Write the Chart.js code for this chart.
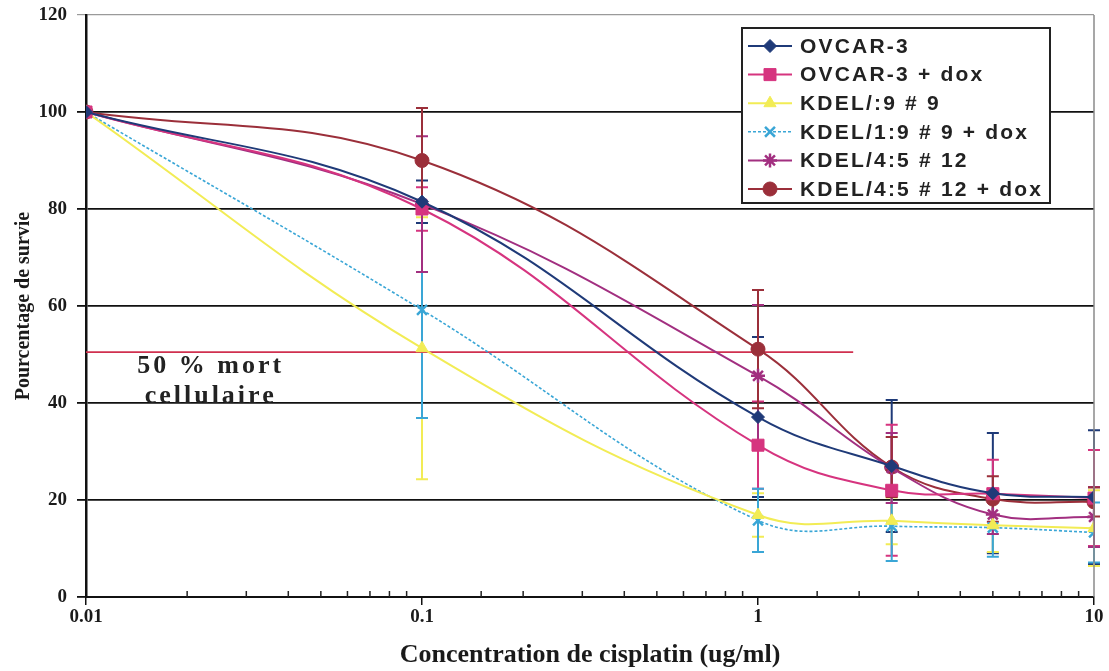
<!DOCTYPE html>
<html>
<head>
<meta charset="utf-8">
<title>Survie cellulaire - cisplatin</title>
<script src="https://cdn.jsdelivr.net/npm/chart.js@4.4.1/dist/chart.umd.min.js"></script>
<style>
  html, body { margin: 0; padding: 0; background: #fff; }
  #wrap { width: 1109px; height: 671px; }
</style>
</head>
<body>
<div id="wrap"><canvas id="survie" width="1109" height="671"></canvas></div>
<script>
// Données
const concentrations = [0.01, 0.1, 1, 2.5, 5, 10];
const tickLabels = ['0.01', '0.1', '1', '10'];

const ovcar3      = [100, 81.5, 37.1, 27.0, 21.4, 20.6];
const ovcar3Dox   = [100, 80.0, 31.3, 22.0, 21.3, 20.4];
const kdel19      = [100, 51.3, 16.9, 15.7, 14.8, 14.2];
const kdel19Dox   = [100, 59.2, 15.8, 14.6, 14.3, 13.3];
const kdel45      = [100, 81.0, 45.6, 26.6, 17.0, 16.5];
const kdel45Dox   = [100, 90.0, 51.1, 26.8, 20.2, 19.6];

// Barres d'erreur (+/-)
const errOvcar3    = [0, 4.4, 16.5, 13.6, 12.4, 13.8];
const errOvcar3Dox = [0, 4.5, 9.0, 13.5, 7.0, 9.9];
const errKdel19    = [0, 27.0, 4.5, 4.8, 5.5, 7.8];
const errKdel19Dox = [0, 22.3, 6.5, 7.2, 6.0, 6.2];
const errKdel45    = [0, 14.0, 14.6, 7.2, 4.0, 6.2];
const errKdel45Dox = [0, 10.8, 12.2, 6.2, 4.7, 3.0];

// Ligne "50 % mort cellulaire"
const ligne50X = [0.01, 1.92];
const ligne50Y = [50.5, 50.5];

const seriesNames = ['OVCAR-3', 'OVCAR-3 + dox', 'KDEL/:9 # 9', 'KDEL/1:9 # 9 + dox', 'KDEL/4:5 # 12', 'KDEL/4:5 # 12 + dox'];

function toPoints(xs, ys) {
    return xs.map((x, i) => ({ x: x, y: ys[i] }));
}

function isMajor(v) {
    const l = Math.log10(v);
    return Math.abs(l - Math.round(l)) < 1e-6;
}

function makeSeries(label, values, errors, color, style, radius, dash, width) {
    return {
        label: label,
        data: toPoints(concentrations, values),
        errors: errors,
        borderColor: color,
        backgroundColor: color,
        pointBackgroundColor: color,
        pointBorderColor: color,
        pointStyle: style,
        pointRadius: radius,
        pointBorderWidth: style === 'crossRot' || style === 'star' ? 2.5 : 1,
        borderWidth: width || 2,
        borderDash: dash || [],
        tension: 0.4,
        fill: false
    };
}

const datasets = [
    makeSeries(seriesNames[0], ovcar3, errOvcar3, '#1f3a78', 'rectRot', 6.5),
    makeSeries(seriesNames[1], ovcar3Dox, errOvcar3Dox, '#d6347f', 'rect', 8.5),
    makeSeries(seriesNames[2], kdel19, errKdel19, '#f2ec55', 'triangle', 7),
    makeSeries(seriesNames[3], kdel19Dox, errKdel19Dox, '#3aa6d6', 'crossRot', 7, [3, 2], 1.6),
    makeSeries(seriesNames[4], kdel45, errKdel45, '#a22f80', 'star', 7),
    makeSeries(seriesNames[5], kdel45Dox, errKdel45Dox, '#9b2f3a', 'circle', 7),
    {
        label: '50 %',
        data: toPoints(ligne50X, ligne50Y),
        borderColor: '#d0304f',
        borderWidth: 1.6,
        pointRadius: 0,
        tension: 0,
        fill: false
    }
];

// Barres d'erreur, dessinées avant les courbes
const errorBars = {
    id: 'errorBars',
    beforeDatasetsDraw(chart) {
        const ctx = chart.ctx;
        const xs = chart.scales.x, ys = chart.scales.y;
        chart.data.datasets.forEach(ds => {
            if (!ds.errors) return;
            ctx.save();
            ctx.strokeStyle = ds.borderColor;
            ctx.lineWidth = 2;
            ctx.setLineDash([]);
            ds.data.forEach((p, i) => {
                const e = ds.errors[i];
                if (!e) return;
                const x = xs.getPixelForValue(p.x);
                const yt = ys.getPixelForValue(p.y + e);
                const yb = ys.getPixelForValue(p.y - e);
                ctx.beginPath();
                ctx.moveTo(x, yt); ctx.lineTo(x, yb);
                ctx.moveTo(x - 6, yt); ctx.lineTo(x + 6, yt);
                ctx.moveTo(x - 6, yb); ctx.lineTo(x + 6, yb);
                ctx.stroke();
            });
            ctx.restore();
        });
    }
};

// Petites graduations (vers le haut), bord droit, texte et légende
const decorations = {
    id: 'decorations',
    afterDraw(chart) {
        const ctx = chart.ctx;
        const a = chart.chartArea;
        const xs = chart.scales.x, ys = chart.scales.y;

        ctx.save();
        ctx.strokeStyle = '#222';
        ctx.lineWidth = 1.5;
        xs.ticks.forEach(t => {
            if (isMajor(t.value)) return;
            const x = xs.getPixelForValue(t.value);
            ctx.beginPath();
            ctx.moveTo(x, a.bottom);
            ctx.lineTo(x, a.bottom - 6);
            ctx.stroke();
        });
        // bord droit
        ctx.strokeStyle = '#8a8a8a';
        ctx.lineWidth = 1.5;
        ctx.beginPath();
        ctx.moveTo(a.right, a.top);
        ctx.lineTo(a.right, a.bottom);
        ctx.stroke();

        // texte 50 %
        ctx.fillStyle = '#222';
        ctx.font = 'bold 26px "Liberation Serif"';
        ctx.letterSpacing = '3px';
        ctx.textAlign = 'center';
        ctx.textBaseline = 'middle';
        const tx = xs.getPixelForValue(0.0235);
        ctx.fillText('50 % mort', tx, ys.getPixelForValue(47.6));
        ctx.fillText('cellulaire', tx, ys.getPixelForValue(41.4));
        ctx.restore();

        // légende
        const lx = 742, ly = 28, lw = 308, lh = 175, row = 28.6;
        ctx.save();
        ctx.fillStyle = '#fff';
        ctx.fillRect(lx, ly, lw, lh);
        ctx.strokeStyle = '#222';
        ctx.lineWidth = 2;
        ctx.strokeRect(lx, ly, lw, lh);
        ctx.font = 'bold 21px "Liberation Sans"';
        ctx.letterSpacing = '2.2px';
        ctx.textBaseline = 'middle';
        chart.data.datasets.slice(0, 6).forEach((ds, i) => {
            const y = ly + 18 + i * row;
            ctx.strokeStyle = ds.borderColor;
            ctx.lineWidth = ds.borderWidth;
            ctx.setLineDash(ds.borderDash);
            ctx.beginPath();
            ctx.moveTo(lx + 6, y);
            ctx.lineTo(lx + 50, y);
            ctx.stroke();
            ctx.setLineDash([]);
            ctx.fillStyle = ds.borderColor;
            ctx.lineWidth = ds.pointBorderWidth;
            Chart.helpers.drawPoint(ctx, {
                pointStyle: ds.pointStyle,
                radius: ds.pointRadius,
                rotation: 0,
                borderWidth: ds.pointBorderWidth
            }, lx + 28, y);
            ctx.fillStyle = '#222';
            ctx.fillText(ds.label, lx + 58, y + 1);
        });
        ctx.restore();
    }
};

const serif = 'Liberation Serif';

new Chart(document.getElementById('survie').getContext('2d'), {
    type: 'line',
    data: { datasets: datasets },
    options: {
        responsive: false,
        animation: false,
        layout: { padding: { top: 15, right: 15, left: 0, bottom: 0 } },
        plugins: {
            legend: { display: false },
            tooltip: { enabled: false }
        },
        scales: {
            x: {
                type: 'logarithmic',
                min: 0.01,
                max: 10,
                afterFit: s => { s.height = 74; },
                border: { display: true, color: '#111', width: 2 },
                grid: {
                    drawOnChartArea: false,
                    drawTicks: true,
                    tickLength: 8,
                    lineWidth: 1.5,
                    color: c => (c.tick && isMajor(c.tick.value)) ? '#111' : 'rgba(0,0,0,0)'
                },
                ticks: {
                    autoSkip: false,
                    maxRotation: 0,
                    padding: 1,
                    color: '#1a1a1a',
                    font: { family: serif, size: 19, weight: 'bold' },
                    callback: function(v) {
                        if (!isMajor(v)) return '';
                        return tickLabels[Math.round(Math.log10(v)) + 2];
                    }
                },
                title: {
                    display: true,
                    text: 'Concentration de cisplatin (ug/ml)',
                    color: '#1a1a1a',
                    padding: { top: 0, bottom: 0 },
                    font: { family: serif, size: 26, weight: 'bold' }
                }
            },
            y: {
                min: 0,
                max: 120,
                afterFit: s => { s.width = 86; s.paddingTop = 0; s.paddingBottom = 0; },
                border: { display: true, color: '#111', width: 2.5 },
                grid: {
                    drawTicks: true,
                    tickLength: 9,
                    color: c => c.tick && c.tick.value === 120 ? '#9a9a9a' : '#111',
                    lineWidth: c => c.tick && c.tick.value === 120 ? 1.2 : 1.8
                },
                ticks: {
                    stepSize: 20,
                    padding: 10,
                    color: '#1a1a1a',
                    font: { family: serif, size: 19, weight: 'bold' }
                },
                title: {
                    display: true,
                    text: 'Pourcentage de survie',
                    color: '#1a1a1a',
                    padding: { top: 12, bottom: 0 },
                    font: { family: serif, size: 20, weight: 'bold' }
                }
            }
        }
    },
    plugins: [errorBars, decorations]
});
</script>
</body>
</html>
